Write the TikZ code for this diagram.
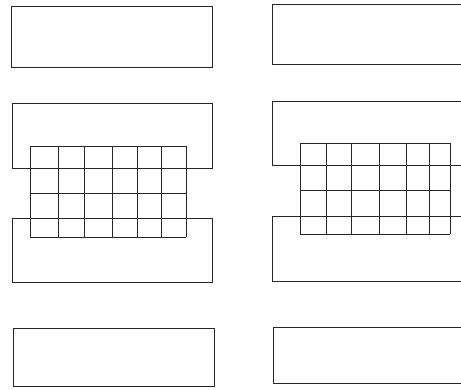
\documentclass[tikz,border=0pt]{standalone}
\begin{document}
\begin{tikzpicture}[x=1pt,y=-1pt,
  ln/.style={draw=black!85,line width=0.9pt,line join=miter}]
\useasboundingbox[fill=white] (0,0) rectangle (461,390);
% left column boxes
\draw[ln] (11,6) rectangle (212,67);
\draw[ln] (12,103) rectangle (212,168);
\draw[ln] (12,218) rectangle (212,282);
\draw[ln] (13,328) rectangle (214,386);
% right column boxes (open to the right edge)
\draw[ln] (461,4) -- (272,4) -- (272,64) -- (461,64);
\draw[ln] (461,101) -- (272,101) -- (272,165) -- (461,165);
\draw[ln] (461,216) -- (272,216) -- (272,281) -- (461,281);
\draw[ln] (461,327) -- (273,327) -- (273,383) -- (461,383);
% left grid
\foreach \x in {30,58,84,112,137,161,186} \draw[ln] (\x,146) -- (\x,237);
\foreach \y in {146,168,193,218,237} \draw[ln] (30,\y) -- (186,\y);
% right grid
\foreach \x in {300,326,351,379,406,429,450} \draw[ln] (\x,143) -- (\x,234);
\foreach \y in {143,165,190,216,234} \draw[ln] (300,\y) -- (450,\y);
\end{tikzpicture}
\end{document}
